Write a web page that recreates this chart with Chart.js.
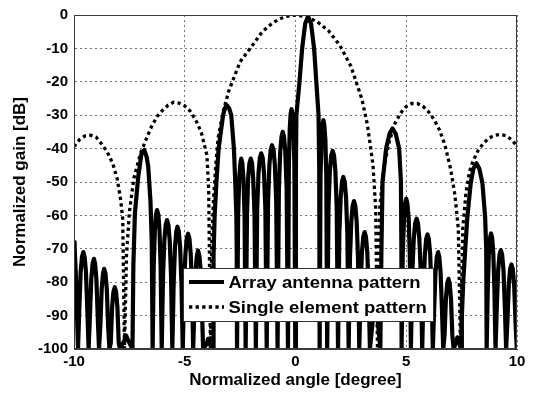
<!DOCTYPE html>
<html><head><meta charset="utf-8">
<script src="https://cdn.jsdelivr.net/npm/chart.js@4.4.1/dist/chart.umd.min.js"></script>
<style>html,body{margin:0;padding:0;background:#fff;}canvas{display:block;}</style>
</head><body>
<canvas id="c" width="534" height="393"></canvas>
<script>
const seriesLabels = ['Array antenna pattern', 'Single element pattern'];
const xAxisTitle = 'Normalized angle [degree]';
const yAxisTitle = 'Normalized gain [dB]';
const xRange = [-10, 10];
const xTickStep = 5;
const yRange = [-100, 0];
const yTickStep = 10;

// Array antenna pattern (angle, dB)
const arrayAngle = [
 -10,-9.97,-9.92,-9.88,-9.82,
 -9.76,-9.70,-9.64,-9.58,-9.52,-9.46,-9.40,-9.34,
 -9.28,-9.22,-9.16,-9.10,-9.05,-8.99,-8.93,-8.87,
 -8.81,-8.75,-8.69,-8.64,-8.58,-8.52,-8.46,-8.40,
 -8.34,-8.28,-8.22,-8.16,-8.10,-8.04,-7.98,-7.92,
 -7.72,-7.64,-7.56,-7.36,
 -7.32,-7.25,-7.10,-6.95,-6.83,-6.72,-6.65,-6.55,-6.49,-6.45,
 -6.40,-6.35,-6.30,-6.25,-6.19,-6.14,-6.09,-6.04,
 -5.98,-5.92,-5.86,-5.80,-5.74,-5.68,-5.62,-5.56,
 -5.50,-5.44,-5.38,-5.33,-5.27,-5.21,-5.15,-5.09,
 -5.03,-4.97,-4.91,-4.85,-4.79,-4.73,-4.67,-4.62,
 -4.56,-4.51,-4.45,-4.40,-4.34,-4.28,-4.23,-4.17,
 -4.00,-3.95,-3.89,-3.72,
 -3.70,-3.65,-3.57,-3.47,-3.27,-3.18,-3.10,-3.00,-2.90,-2.78,-2.72,-2.67,-2.655,-2.64,
 -2.59,-2.54,-2.49,-2.45,-2.40,-2.35,-2.30,-2.25,
 -2.19,-2.14,-2.08,-2.02,-1.96,-1.91,-1.85,-1.79,
 -1.73,-1.67,-1.61,-1.55,-1.48,-1.42,-1.36,-1.30,
 -1.24,-1.18,-1.12,-1.06,-0.99,-0.93,-0.87,-0.81,
 -0.75,-0.69,-0.63,-0.58,-0.52,-0.46,-0.40,-0.34,
 -0.30,-0.26,-0.22,-0.18,-0.13,-0.09,-0.05,-0.01,
 0.02,0.04,0.18,0.30,0.44,0.57,0.70,0.84,0.94,1.04,1.07,1.09,
 1.13,1.18,1.22,1.26,1.30,1.35,1.39,1.43,
 1.49,1.55,1.61,1.68,1.74,1.80,1.86,1.92,
 1.98,2.04,2.10,2.16,2.22,2.28,2.34,2.40,
 2.46,2.52,2.58,2.64,2.70,2.76,2.82,2.88,
 2.94,3.00,3.06,3.12,3.18,3.24,3.30,3.36,
 3.48,3.54,3.60,3.66,3.72,3.83,
 3.88,3.93,4.09,4.25,4.38,4.52,4.68,4.76,4.78,4.79,
 4.84,4.90,4.95,5.00,5.05,5.11,5.16,5.21,
 5.27,5.34,5.40,5.47,5.53,5.59,5.66,5.72,
 5.78,5.84,5.90,5.96,6.02,6.08,6.14,6.20,
 6.26,6.32,6.38,6.44,6.49,6.55,6.61,6.67,
 6.73,6.79,6.85,6.91,6.96,7.02,7.08,7.14,
 7.25,7.31,7.37,7.48,
 7.51,7.57,7.66,7.76,7.91,8.03,8.17,8.30,8.44,8.56,8.61,8.63,
 8.68,8.73,8.78,8.83,8.88,8.93,8.98,9.03,
 9.09,9.15,9.21,9.27,9.33,9.39,9.45,9.51,
 9.57,9.63,9.69,9.75,9.81,9.87,9.93,9.99
];
const arrayGain = [
 -68,-70,-77,-86,-100,
 -88,-77,-72.4,-71,-72.4,-77,-88,-100,
 -90,-79,-74.4,-73,-74.4,-79,-90,-100,
 -93,-82,-77.4,-76,-77.4,-82,-93,-100,
 -98.2,-87.5,-82.9,-81.5,-82.9,-87.5,-98.2,-100,
 -97.4,-96,-97.4,-100,
 -75,-59.4,-48.4,-41.4,-40.4,-42.5,-45.4,-55.4,-68,-100,
 -75,-64.4,-59.8,-58.4,-59.8,-64.4,-75,-100,
 -78,-67.4,-62.8,-61.4,-62.8,-67.4,-78,-100,
 -80,-69.4,-64.8,-63.4,-64.8,-69.4,-80,-100,
 -82,-71.5,-66.9,-65.5,-66.9,-71.5,-82,-100,
 -87,-76.5,-72,-70.5,-72,-76.5,-87,-100,
 -98.4,-97,-98.4,-100,
 -72,-60,-50,-40,-30,-27.8,-27,-27.9,-30,-40,-50,-60,-70,-100,
 -60,-49,-44.4,-43,-44.4,-49,-60,-100,
 -60,-49,-44.4,-43,-44.4,-49,-60,-100,
 -58,-47.4,-42.8,-41.4,-42.8,-47.4,-58,-100,
 -56,-45,-40.4,-39,-40.4,-45,-56,-100,
 -52,-41,-36.4,-35,-36.4,-41,-52,-100,
 -45,-34.2,-29.6,-28.2,-29.6,-34.2,-45,-100,
 -45,-30,-20,-10,-2.5,-0.5,-2.5,-10,-20,-30,-45,-100,
 -48,-37.5,-32.9,-31.5,-32.9,-37.5,-48,-100,
 -57.4,-46.7,-42.1,-40.7,-42.1,-46.7,-57.4,-100,
 -65.2,-54.5,-49.9,-48.5,-49.9,-54.5,-65.2,-100,
 -72.4,-61.7,-57.1,-55.7,-57.1,-61.7,-72.4,-100,
 -81.7,-71,-66.4,-65,-66.4,-71,-81.7,-100,
 -92,-87.4,-86,-87.4,-92,-100,
 -70,-50,-40,-35.5,-34,-35.5,-40,-50,-70,-100,
 -72,-61,-56.4,-55,-56.4,-61,-72,-100,
 -77.7,-67,-62.4,-61,-62.4,-67,-77.7,-100,
 -82.4,-71.7,-67.1,-65.7,-67.1,-71.7,-82.4,-100,
 -87.7,-77,-72.4,-71,-72.4,-77,-87.7,-100,
 -95.7,-85,-80.4,-79,-80.4,-85,-95.7,-100,
 -97.9,-96.5,-97.9,-100,
 -90.3,-80.3,-70.4,-60.4,-50.4,-46,-44.4,-46,-50.4,-60.4,-70,-100,
 -82,-71.4,-66.8,-65.4,-66.8,-71.4,-82,-100,
 -87,-76.4,-71.8,-70.4,-71.8,-76.4,-87,-100,
 -91.4,-80.7,-76.1,-74.7,-76.1,-80.7,-91.4,-100
];

// Single element pattern (angle, dB)
const elementAngle = [
 -10,-9.75,-9.5,-9.25,-9,-8.75,-8.5,-8.25,-8.05,-7.9,
 -7.8,-7.72,-7.63,-7.5,-7.3,-7,-6.75,-6.5,-6.25,-6,
 -5.75,-5.5,-5.25,-5,-4.75,-4.5,-4.25,-4,-3.92,-3.84,
 -3.78,-3.7,-3.6,-3.5,-3.25,-3,-2.5,-2,-1.5,-1,
 -0.5,0,0.5,1,1.5,2,2.5,3,3.25,3.5,
 3.62,3.7,3.8,3.95,4.1,4.25,4.5,4.75,5,5.25,
 5.5,5.75,6,6.25,6.5,6.75,7,7.2,7.35,7.45,
 7.55,7.7,7.85,8,8.25,8.5,8.75,9,9.25,9.5,
 9.75,10
];
const elementGain = [
 -39.4,-37.3,-36.2,-36,-36.6,-38.6,-41,-44.5,-49,-55,
 -61,-100,-72,-59,-49,-41.5,-37.3,-33.4,-30.4,-28.5,
 -27,-26.1,-26.4,-27.2,-28.8,-31.5,-35.2,-42,-52,-100,
 -68,-55,-45,-37,-28.5,-22.5,-14,-9.6,-5,-2.2,
 -0.5,0,-0.5,-2.1,-4.8,-9.1,-15.3,-25.2,-33,-45,
 -58,-100,-58,-48,-42,-37.5,-32.3,-29.3,-27.4,-26.5,
 -26.5,-27.3,-28.9,-31.2,-34.4,-39,-46,-54,-64,-100,
 -64,-53,-47,-44,-40.5,-38.3,-36.8,-36,-35.8,-36.1,
 -37.3,-39.2
];

const FONT = '"Liberation Sans", Arial, Helvetica, sans-serif';
Chart.defaults.font.family = FONT;
Chart.defaults.font.weight = 'bold';
Chart.defaults.color = '#000';

const toPts = (xs, ys) => xs.map((x, i) => ({x: x, y: ys[i]}));

const frameAndLegend = {
  id: 'frameAndLegend',
  afterDatasetsDraw(chart) {
    const ctx = chart.ctx, a = chart.chartArea;
    ctx.save();
    ctx.strokeStyle = '#3a3a3a';
    ctx.lineWidth = 1;
    ctx.strokeRect(Math.round(a.left) + 0.5, Math.round(a.top) + 0.5,
                   Math.round(a.right - a.left) - 1, Math.round(a.bottom - a.top) - 1);
    // legend box inside the plot
    const bx = 183.5, by = 268.5, bw = 250, bh = 53;
    ctx.fillStyle = '#fff';
    ctx.fillRect(bx, by, bw, bh);
    ctx.strokeStyle = '#333';
    ctx.strokeRect(bx, by, bw, bh);
    chart.data.datasets.forEach((ds, i) => {
      const y = 282 + i * 25;
      ctx.beginPath();
      ctx.setLineDash(ds.borderDash || []);
      ctx.lineWidth = ds.borderWidth;
      ctx.strokeStyle = ds.borderColor;
      ctx.lineCap = 'butt';
      ctx.moveTo(189, y);
      ctx.lineTo(224, y);
      ctx.stroke();
      ctx.setLineDash([]);
      ctx.save();
      ctx.translate(228.5, y + 1);
      ctx.scale(1.12, 1);
      ctx.fillStyle = '#000';
      ctx.font = 'bold 16.5px ' + FONT;
      ctx.textBaseline = 'middle';
      ctx.textAlign = 'left';
      ctx.fillText(ds.label, 0, 0);
      ctx.restore();
    });
    ctx.restore();
  }
};

new Chart(document.getElementById('c'), {
  type: 'line',
  data: {
    datasets: [
      {
        label: seriesLabels[0],
        data: toPts(arrayAngle, arrayGain),
        borderColor: '#000',
        borderWidth: 4.2,
        pointRadius: 0,
        tension: 0,
        borderJoinStyle: 'round',
        fill: false,
        clip: 0,
        order: 1
      },
      {
        label: seriesLabels[1],
        data: toPts(elementAngle, elementGain),
        borderColor: '#000',
        borderWidth: 3.3,
        borderDash: [3.3, 3.3],
        pointRadius: 0,
        tension: 0,
        fill: false,
        clip: 0,
        order: 0
      }
    ]
  },
  options: {
    responsive: false,
    animation: false,
    devicePixelRatio: 1,
    layout: {padding: {left: 0, right: 17, top: 15, bottom: 0}},
    plugins: {legend: {display: false}, tooltip: {enabled: false}},
    scales: {
      x: {
        type: 'linear',
        min: xRange[0], max: xRange[1],
        ticks: {stepSize: xTickStep, padding: 4, font: {size: 15, weight: 'bold'}, color: '#000', maxRotation: 0},
        grid: {color: 'rgba(0,0,0,0.55)', lineWidth: 1, drawTicks: false},
        border: {display: true, color: '#3a3a3a', width: 1, dash: [2, 3]},
        title: {display: true, text: xAxisTitle, font: {size: 17, weight: 'bold'}, color: '#000', padding: {top: 0, bottom: 2}},
        afterFit: s => { s.height = 44; s.paddingLeft = 0; s.paddingRight = 0; }
      },
      y: {
        type: 'linear',
        min: yRange[0], max: yRange[1],
        ticks: {stepSize: yTickStep, padding: 6, font: {size: 15, weight: 'bold'}, color: '#000'},
        grid: {color: 'rgba(0,0,0,0.55)', lineWidth: 1, drawTicks: false},
        border: {display: true, color: '#3a3a3a', width: 1, dash: [2, 3]},
        title: {display: true, text: yAxisTitle, font: {size: 17, weight: 'bold'}, color: '#000', padding: {top: 10, bottom: 0}},
        afterFit: s => { s.width = 74; s.paddingTop = 0; s.paddingBottom = 0; }
      }
    }
  },
  plugins: [frameAndLegend]
});
</script>
</body></html>
